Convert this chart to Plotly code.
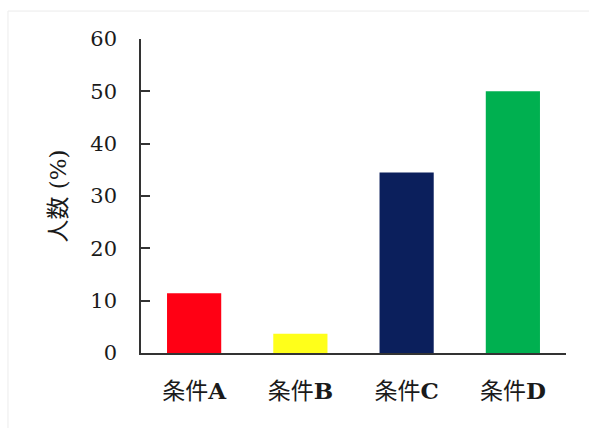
import plotly.graph_objects as go

# Share of people (%) under each condition
categories = ["条件A", "条件B", "条件C", "条件D"]
values = [11.4, 3.7, 34.5, 50.0]
bar_colors = ["#ff0014", "#ffff1a", "#0b1f5c", "#00b050"]
y_ticks = [0, 10, 20, 30, 40, 50, 60]

FONT = "DejaVu Serif, Noto Sans CJK JP, serif"

# Condition letter set in bold after the regular-weight prefix
tick_text = [c[:-1] + "<b>" + c[-1] + "</b>" for c in categories]

fig = go.Figure(
    go.Bar(
        x=categories,
        y=values,
        marker=dict(color=bar_colors, line=dict(width=0)),
        width=0.51,
        hoverinfo="skip",
    )
)

fig.update_layout(
    width=589,
    height=428,
    margin=dict(l=141, r=23, t=39, b=74.5),
    paper_bgcolor="white",
    plot_bgcolor="white",
    showlegend=False,
    font=dict(family=FONT, color="#1a1a1a", size=20),
    shapes=[
        # thin frame around the figure
        dict(
            type="rect", xref="paper", yref="paper",
            x0=-0.313, x1=1.2, y0=-0.4, y1=1.089,
            line=dict(color="#ececec", width=1),
            fillcolor="rgba(0,0,0,0)", layer="below",
        )
    ],
)

fig.update_xaxes(
    showline=True,
    linecolor="#333333",
    linewidth=1.5,
    ticks="",
    showgrid=False,
    tickmode="array",
    tickvals=categories,
    ticktext=tick_text,
    tickfont=dict(family=FONT, size=23, color="#1a1a1a"),
    ticklabelstandoff=17,
)

fig.update_yaxes(
    range=[0, 60],
    tickvals=y_ticks,
    showline=True,
    linecolor="#333333",
    linewidth=1.5,
    ticks="inside",
    ticklen=9,
    tickwidth=1.5,
    tickcolor="#333333",
    showgrid=False,
    zeroline=False,
    tickfont=dict(family=FONT, size=21, color="#1a1a1a"),
    ticklabelstandoff=18,
    title=dict(
        text="人数 (%)",
        font=dict(family=FONT, size=23, color="#1a1a1a"),
        standoff=17,
    ),
)

fig.write_html("out.html")
